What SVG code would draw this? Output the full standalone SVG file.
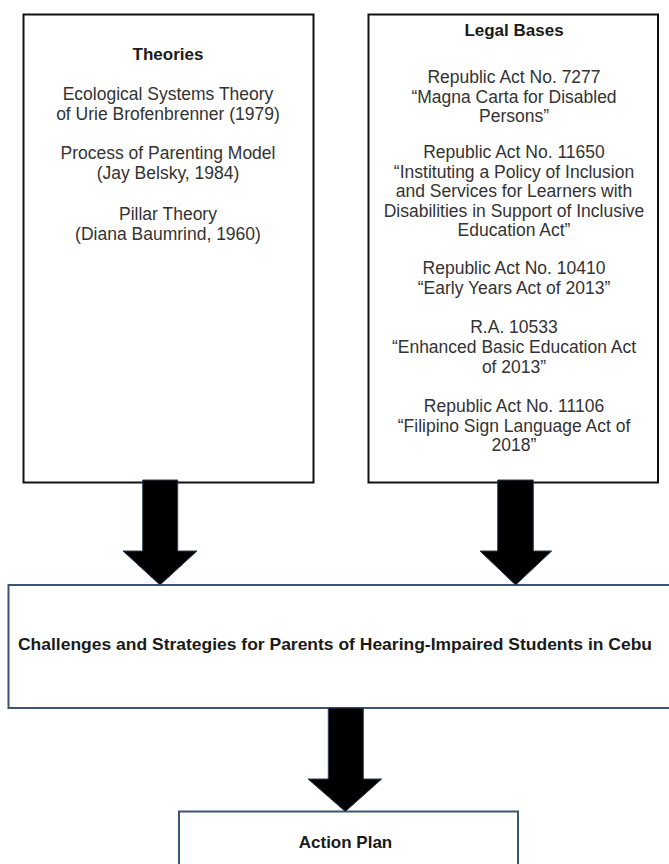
<svg xmlns="http://www.w3.org/2000/svg" width="669" height="864" viewBox="0 0 669 864">
<style>
.box{fill:#fff;stroke:#111;stroke-width:2}
.box2{fill:#fff;stroke:#3e5570;stroke-width:2}
.arr{fill:#000;stroke:#2c3e55;stroke-width:1}
.t{font-family:"Liberation Sans",Arial,sans-serif;font-size:17.5px;fill:#333;text-anchor:middle}
.b{font-family:"Liberation Sans",Arial,sans-serif;font-size:17px;font-weight:bold;fill:#1a1a1a;text-anchor:middle}
</style>
<rect width="669" height="864" fill="#fff"/>
<g id="theories">
<rect class="box" x="23.5" y="14.5" width="290" height="468"/>
<text class="b" x="168" y="60">Theories</text>
<text class="t" x="168" y="100">Ecological Systems Theory</text>
<text class="t" x="168" y="120">of Urie Brofenbrenner (1979)</text>
<text class="t" x="168" y="159">Process of Parenting Model</text>
<text class="t" x="168" y="179">(Jay Belsky, 1984)</text>
<text class="t" x="168" y="220">Pillar Theory</text>
<text class="t" x="168" y="240">(Diana Baumrind, 1960)</text>
</g>
<g id="legal">
<rect class="box" x="368.5" y="14.5" width="289.5" height="468"/>
<text class="b" x="514" y="36">Legal Bases</text>
<text class="t" x="514" y="83">Republic Act No. 7277</text>
<text class="t" x="514" y="102.5">“Magna Carta for Disabled</text>
<text class="t" x="514" y="122">Persons”</text>
<text class="t" x="514" y="158">Republic Act No. 11650</text>
<text class="t" x="514" y="177.5">“Instituting a Policy of Inclusion</text>
<text class="t" x="514" y="197">and Services for Learners with</text>
<text class="t" x="514" y="216.5">Disabilities in Support of Inclusive</text>
<text class="t" x="514" y="236">Education Act”</text>
<text class="t" x="514" y="274">Republic Act No. 10410</text>
<text class="t" x="514" y="294">“Early Years Act of 2013”</text>
<text class="t" x="514" y="333">R.A. 10533</text>
<text class="t" x="514" y="353">“Enhanced Basic Education Act</text>
<text class="t" x="514" y="373">of 2013”</text>
<text class="t" x="514" y="412">Republic Act No. 11106</text>
<text class="t" x="514" y="432">“Filipino Sign Language Act of</text>
<text class="t" x="514" y="451">2018”</text>
</g>
<g id="challenges">
<rect class="box2" x="8.5" y="585" width="664" height="123"/>
<text class="b" x="335" y="650" textLength="634" lengthAdjust="spacingAndGlyphs">Challenges and Strategies for Parents of Hearing-Impaired Students in Cebu</text>
</g>
<g id="action-plan">
<rect class="box2" x="179" y="811.5" width="339" height="60"/>
<text class="b" x="345.5" y="848">Action Plan</text>
</g>
<g id="connectors">
<path class="arr" d="M142.7,480 H177.7 V551 H197 L160,585 L123,551 H142.7 Z"/>
<path class="arr" d="M497.7,480 H533.3 V551 H551.7 L515.6,585 L480,551 H497.7 Z"/>
<path class="arr" d="M328.3,708 H363.3 V779 H381.7 L345.3,811.5 L308,779 H328.3 Z"/>
</g>
</svg>
